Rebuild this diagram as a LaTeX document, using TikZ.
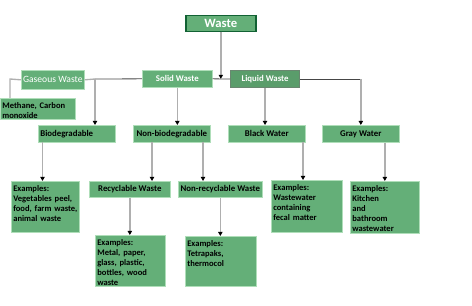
\documentclass[tikz,border=0pt]{standalone}
\usepackage{fontspec}
\setmainfont{Carlito}
\usetikzlibrary{arrows.meta}
\usetikzlibrary{positioning}

\definecolor{boxgreen}{RGB}{100,175,120}
\definecolor{boxedge}{RGB}{175,222,185}
\definecolor{liqgreen}{RGB}{90,157,107}
\definecolor{liqedge}{RGB}{105,135,112}
\definecolor{wasteedge}{RGB}{18,98,52}
\definecolor{linkgray}{RGB}{175,175,175}
\definecolor{busgray}{RGB}{70,70,70}

\tikzset{
  box/.style={fill=boxgreen, draw=boxedge, line width=0.5pt, anchor=north west,
    inner sep=0pt, text=white, font=\bfseries\fontsize{6.6}{7.5}\selectfont,
    minimum height=12.75pt, minimum width=57.75pt},
  exbox/.style={box, text=black, align=left, inner xsep=1.5pt, inner ysep=2pt,
    minimum width=0pt, minimum height=0pt, text height=5.5pt,
    font=\bfseries\fontsize{6.4}{7.5}\selectfont},
  link/.style={draw=linkgray, line width=1pt},
  arr/.style={link, -{Triangle[length=3pt, width=3.2pt, color=black]}},
  bus/.style={draw=busgray, line width=0.6pt}
}

\begin{document}
\begin{tikzpicture}[x=0.75pt, y=-0.75pt]
  \useasboundingbox (0,0) rectangle (472,306);

  % 上段
  \node[box, draw=wasteedge, minimum width=51.75pt, minimum height=12pt,
    font=\bfseries\fontsize{9.5}{10}\selectfont] (waste) at (186,15) {Waste};
  \draw[wasteedge, line width=1.5pt] (waste.north west) -- (waste.south west)
    (waste.north east) -- (waste.south east);

  % 二段目
  \node[box, minimum width=47.25pt, minimum height=14.25pt,
    font=\fontsize{7.2}{8}\selectfont] (gas) at (21,70) {Gaseous Waste};
  \node[box, minimum width=52.5pt] (solid) at (142,70) {Solid Waste};
  \node[box, fill=liqgreen, draw=liqedge, line width=0.8pt,
    minimum width=51.75pt] (liquid) at (230,70) {Liquid Waste};
  \node[exbox, text width=53.25pt, text depth=6.25pt] (methane) at (0,98)
    {Methane, Carbon\\monoxide};

  % 三段目
  \node[box, text=black, align=left, inner xsep=1.5pt, text width=54.75pt]
    (bio) at (38,125) {Biodegradable};
  \node[box, text=black] (nonbio) at (133,125) {Non-biodegradable};
  \node[box, text=black] (black) at (228,125) {Black Water};
  \node[box, text=black] (gray) at (322,125) {Gray Water};

  % 四段目
  \node[exbox, text width=48pt, text depth=28.75pt] (exbio) at (11,181)
    {Examples:\\Vegetables peel,\\\mbox{food, farm waste,}\\animal waste};
  \node[box, text=black, minimum width=60.75pt, minimum height=12pt]
    (recyc) at (89,181) {Recyclable Waste};
  \node[box, text=black, minimum width=63pt, minimum height=12pt]
    (nonrec) at (178,181) {Non-recyclable Waste};
  \node[exbox, text width=50.25pt, text depth=29.5pt] (exblack) at (271,180)
    {Examples:\\Wastewater\\containing\\fecal matter};
  \node[exbox, text width=48.75pt, text depth=29.5pt] (exgray) at (350,181)
    {Examples:\\Kitchen\\and\\bathroom\\wastewater};

  % 最下段
  \node[exbox, text width=49.5pt, text depth=28.75pt] (exrec) at (95,235)
    {Examples:\\Metal, paper,\\glass, plastic,\\bottles, wood\\waste};
  \node[exbox, text width=50.25pt, text depth=28pt] (exnon) at (185,236)
    {Examples:\\Tetrapaks,\\thermocol};

  % 分岐点
  \coordinate (gasbus) at (95,79);
  \coordinate (grayturn) at (gray.north |- liquid.east);
  \coordinate (biostem) at (42.5,142);
  \coordinate (recstem) at (152,142);
  \coordinate (nonstem) at (203,142);
  \coordinate (blackstem) at (303,142);
  \coordinate (methstem) at (10,79);

  % 横線
  \draw[bus] (gasbus) -- (solid.west);
  \draw[bus] (solid.east) -- (liquid.west);
  \draw[bus] (liquid.east) -- (grayturn);

  % 矢印
  \draw[arr] (waste.south) -- (waste.south |- solid.east);
  \draw[link] (gas.east) -- (gasbus);
  \draw[arr] (gasbus) -- (gasbus |- bio.north);
  \draw[link] (gas.west) -- (methstem) -- (methstem |- methane.north);
  \draw[arr] (solid.south) -- (solid.south |- nonbio.north);
  \draw[arr] (liquid.south) -- (liquid.south |- black.north);
  \draw[arr] (grayturn) -- (gray.north);
  \draw[arr] (biostem) -- (biostem |- exbio.north);
  \draw[arr] (recstem) -- (recstem |- recyc.north);
  \draw[arr] (nonstem) -- (nonstem |- nonrec.north);
  \draw[arr] (blackstem) -- (blackstem |- exblack.north);
  \draw[arr] (exgray.north |- gray.south) -- (exgray.north);
  \draw[arr] (recyc.south) -- (recyc.south |- exrec.north);
  \draw[arr] (nonrec.south) -- (nonrec.south |- exnon.north);
\end{tikzpicture}
\end{document}
